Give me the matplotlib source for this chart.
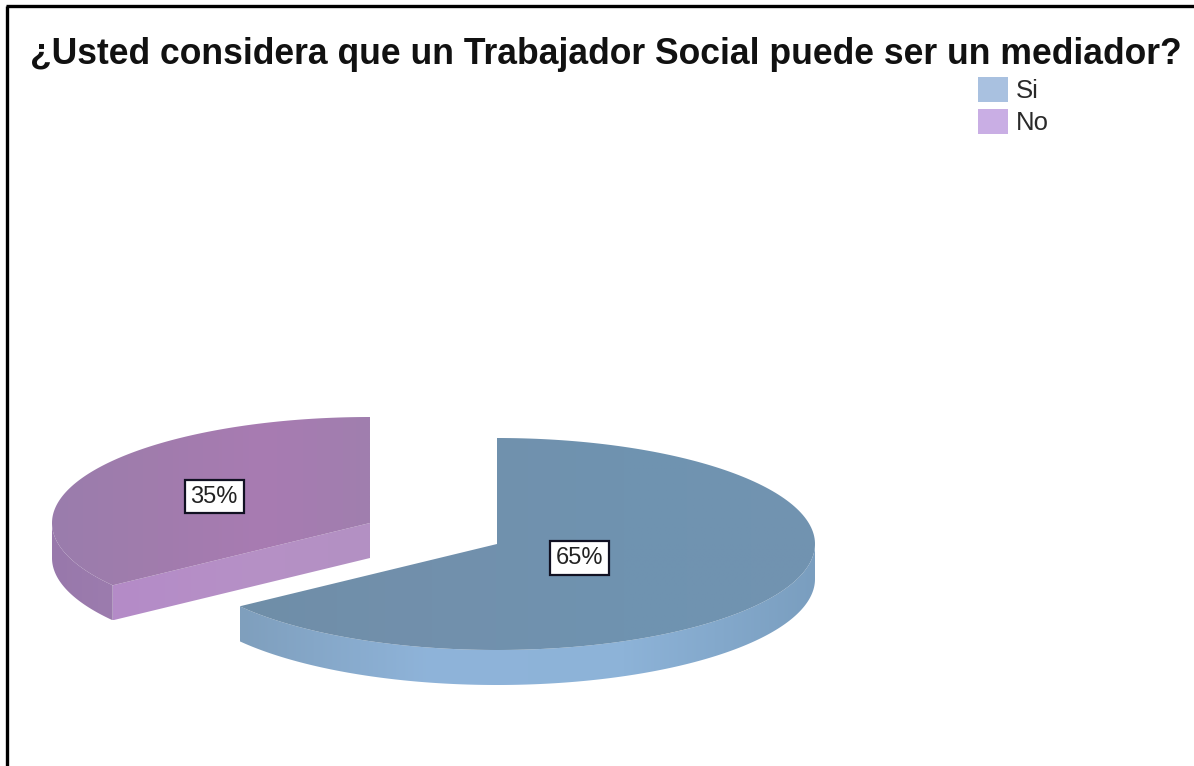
import numpy as np
import matplotlib
matplotlib.use("Agg")
import matplotlib.pyplot as plt
from matplotlib.colors import LinearSegmentedColormap
from matplotlib.patches import Patch, Polygon

plt.rcParams['font.family'] = ['Liberation Sans', 'DejaVu Sans']

TITLE = "¿Usted considera que un Trabajador Social puede ser un mediador?"
categories = ["Si", "No"]
shares = [65, 35]
legend_colors = ["#a9c1e0", "#c9aee4"]

RX, RY, DEPTH = 318, 106, 35
centers = [(497, 544), (370, 523)]
label_r = [0.29, 0.55]


def rim_xy(cx, cy, a0, a1, n=200):
    a = np.radians(np.linspace(a0, a1, n))
    return cx + RX * np.cos(a), cy - RY * np.sin(a)


def shade(ax, xy, stops, vertical=False):
    # fill a polygon with a linear gradient clipped to its outline
    poly = Polygon(xy, closed=True, fc="none", ec="none")
    ax.add_patch(poly)
    x0, y0 = xy.min(axis=0)
    x1, y1 = xy.max(axis=0)
    grad = np.linspace(0, 1, 256)
    grad = grad[:, None] if vertical else grad[None, :]
    cmap = LinearSegmentedColormap.from_list("s", stops)
    im = ax.imshow(grad, cmap=cmap, extent=(x0, x1, y1, y0), aspect="auto",
                   interpolation="bilinear", zorder=2)
    im.set_clip_path(poly)


fig = plt.figure(figsize=(11.94, 7.66), dpi=100, facecolor="white")
ax = fig.add_axes([0, 0, 1, 1])

# slices run clockwise from twelve o'clock
start = 90.0
a_end = start - shares[0] / sum(shares) * 360

# big slice: outer rim first, then the top face
cx, cy = centers[0]
x, y = rim_xy(cx, cy, 0, a_end)
rim = np.vstack([np.c_[x, y], np.c_[x[::-1], y[::-1] + DEPTH]])
shade(ax, rim, ["#7f9fbd", "#8fb4da", "#8db3d8", "#7a9ebf"])
x, y = rim_xy(cx, cy, start, a_end)
top = np.vstack([[cx, cy], np.c_[x, y]])
shade(ax, top, ["#6f8ea8", "#7290ac", "#6f93b0", "#7293b1"])

# small slice, pulled out to the upper left
cx, cy = centers[1]
x, y = rim_xy(cx, cy, 180, a_end + 360)
rim = np.vstack([np.c_[x, y], np.c_[x[::-1], y[::-1] + DEPTH]])
shade(ax, rim, ["#9878ab", "#9c7cae"])
cx_end, cy_end = x[-1], y[-1]
cut = np.array([[cx, cy], [cx_end, cy_end], [cx_end, cy_end + DEPTH], [cx, cy + DEPTH]])
shade(ax, cut, ["#b48bc8", "#b690c6", "#b391c3"])
x, y = rim_xy(cx, cy, start, a_end + 360)
top = np.vstack([[cx, cy], np.c_[x, y]])
shade(ax, top, ["#9a7dac", "#a17cad", "#a87bb2", "#a07fae"])

# percentage labels in white boxes
offset = 0.0
for i, share in enumerate(shares):
    mid = start - (offset + share / 2) / sum(shares) * 360
    offset += share
    lx = centers[i][0] + label_r[i] * RX * np.cos(np.radians(mid))
    ly = centers[i][1] - label_r[i] * RY * np.sin(np.radians(mid))
    ax.text(lx, ly, f"{share}%", fontsize=17, color="#222222", ha="center", va="center",
            zorder=5, bbox=dict(fc="white", ec="#111122", lw=1.6, boxstyle="square,pad=0.25"))

ax.text(30, 55, TITLE, fontsize=25.6, fontweight="bold", color="#111111", va="center", ha="left")

handles = [Patch(fc=c, ec="none", label=n) for c, n in zip(legend_colors, categories)]
ax.legend(handles=handles, loc="upper left", bbox_to_anchor=(970, 69),
          bbox_transform=ax.transData, frameon=False, fontsize=18.5, labelcolor="#2a2a2a",
          handlelength=1.17, handleheight=1.13, handletextpad=0.3, labelspacing=0.22,
          borderpad=0.3, borderaxespad=0)

# black frame along the top and left of the figure
ax.plot([7, 7], [766, 6], color="black", lw=2.4, solid_capstyle="butt", zorder=6)
ax.plot([6, 1194], [6, 6], color="black", lw=2.4, solid_capstyle="butt", zorder=6)

ax.set_xlim(0, 1194)
ax.set_ylim(766, 0)
ax.axis("off")
fig.savefig("out.png", dpi=100, facecolor="white")
